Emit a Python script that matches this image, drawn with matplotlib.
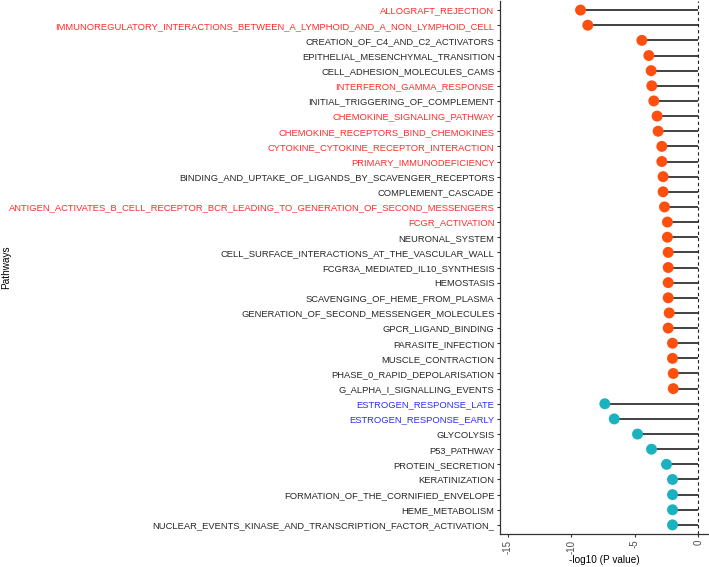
import matplotlib
matplotlib.use("Agg")
import matplotlib.pyplot as plt

plt.rcParams['font.family'] = ['Liberation Sans', 'DejaVu Sans']

pathways = [
    "ALLOGRAFT_REJECTION",
    "IMMUNOREGULATORY_INTERACTIONS_BETWEEN_A_LYMPHOID_AND_A_NON_LYMPHOID_CELL",
    "CREATION_OF_C4_AND_C2_ACTIVATORS",
    "EPITHELIAL_MESENCHYMAL_TRANSITION",
    "CELL_ADHESION_MOLECULES_CAMS",
    "INTERFERON_GAMMA_RESPONSE",
    "INITIAL_TRIGGERING_OF_COMPLEMENT",
    "CHEMOKINE_SIGNALING_PATHWAY",
    "CHEMOKINE_RECEPTORS_BIND_CHEMOKINES",
    "CYTOKINE_CYTOKINE_RECEPTOR_INTERACTION",
    "PRIMARY_IMMUNODEFICIENCY",
    "BINDING_AND_UPTAKE_OF_LIGANDS_BY_SCAVENGER_RECEPTORS",
    "COMPLEMENT_CASCADE",
    "ANTIGEN_ACTIVATES_B_CELL_RECEPTOR_BCR_LEADING_TO_GENERATION_OF_SECOND_MESSENGERS",
    "FCGR_ACTIVATION",
    "NEURONAL_SYSTEM",
    "CELL_SURFACE_INTERACTIONS_AT_THE_VASCULAR_WALL",
    "FCGR3A_MEDIATED_IL10_SYNTHESIS",
    "HEMOSTASIS",
    "SCAVENGING_OF_HEME_FROM_PLASMA",
    "GENERATION_OF_SECOND_MESSENGER_MOLECULES",
    "GPCR_LIGAND_BINDING",
    "PARASITE_INFECTION",
    "MUSCLE_CONTRACTION",
    "PHASE_0_RAPID_DEPOLARISATION",
    "G_ALPHA_I_SIGNALLING_EVENTS",
    "ESTROGEN_RESPONSE_LATE",
    "ESTROGEN_RESPONSE_EARLY",
    "GLYCOLYSIS",
    "P53_PATHWAY",
    "PROTEIN_SECRETION",
    "KERATINIZATION",
    "FORMATION_OF_THE_CORNIFIED_ENVELOPE",
    "HEME_METABOLISM",
    "NUCLEAR_EVENTS_KINASE_AND_TRANSCRIPTION_FACTOR_ACTIVATION_",
]

values = [
    -9.27, -8.70, -4.45, -3.90, -3.72, -3.67, -3.51, -3.25, -3.17, -2.88,
    -2.88, -2.78, -2.78, -2.67, -2.44, -2.44, -2.38, -2.38, -2.38, -2.38,
    -2.30, -2.38, -2.04, -2.04, -1.98, -1.98,
    -7.36, -6.62, -4.79, -3.69, -2.51, -2.04, -2.04, -2.04, -2.04,
]

# group: "up" (orange) or "down" (teal)
groups = ["up"] * 26 + ["down"] * 9

# label colour class: "r" red, "b" blue, "k" black
label_class = [
    "r", "r", "k", "k", "k", "r", "k", "r", "r", "r",
    "r", "k", "k", "r", "r", "k", "k", "k", "k", "k",
    "k", "k", "k", "k", "k", "k",
    "b", "b", "k", "k", "k", "k", "k", "k", "k",
]

xticks = [-15, -10, -5, 0]

dot_colors = {"up": "#FF4F0F", "down": "#19B2BE"}
text_colors = {"r": "#FF2A2A", "b": "#2B2BFF", "k": "#262626"}

fig = plt.figure(figsize=(7.09, 5.67), dpi=100)
ax = fig.add_axes([500/709, 1 - 534/567, 208/709, 533/567])

n = len(pathways)
ypos = list(range(n, 0, -1))

ax.hlines(ypos, values, 0, color="#333333", linewidth=1.3, zorder=1)
ax.scatter(values, ypos, s=62, c=[dot_colors[g] for g in groups],
           edgecolors="none", zorder=3)
ax.axvline(0, color="#222222", linestyle=(0, (3, 2.5)), linewidth=0.8, zorder=2)

ax.set_xlim(-15.6, 0.75)
ax.set_ylim(0.4, n + 0.6)
ax.set_yticks(ypos)
ax.set_yticklabels(pathways, fontsize=6.72)
for lbl, cls in zip(ax.get_yticklabels(), label_class):
    lbl.set_color(text_colors[cls])

ax.set_xticks(xticks)
ax.set_xticklabels([str(v) for v in xticks], rotation=90, fontsize=7.0,
                   color="#4D4D4D")
ax.set_xlabel("-log10 (P value)", fontsize=7.2, labelpad=1)
ax.set_ylabel("Pathways", fontsize=7.2)
ax.yaxis.set_label_coords(-2.35, 0.5)

for side in ["top", "right"]:
    ax.spines[side].set_visible(False)
for side in ["left", "bottom"]:
    ax.spines[side].set_color("#333333")
    ax.spines[side].set_linewidth(0.9)
ax.tick_params(axis="both", length=2.5, width=0.8, color="#333333", pad=1.5)

fig.savefig("out.png", dpi=100)
